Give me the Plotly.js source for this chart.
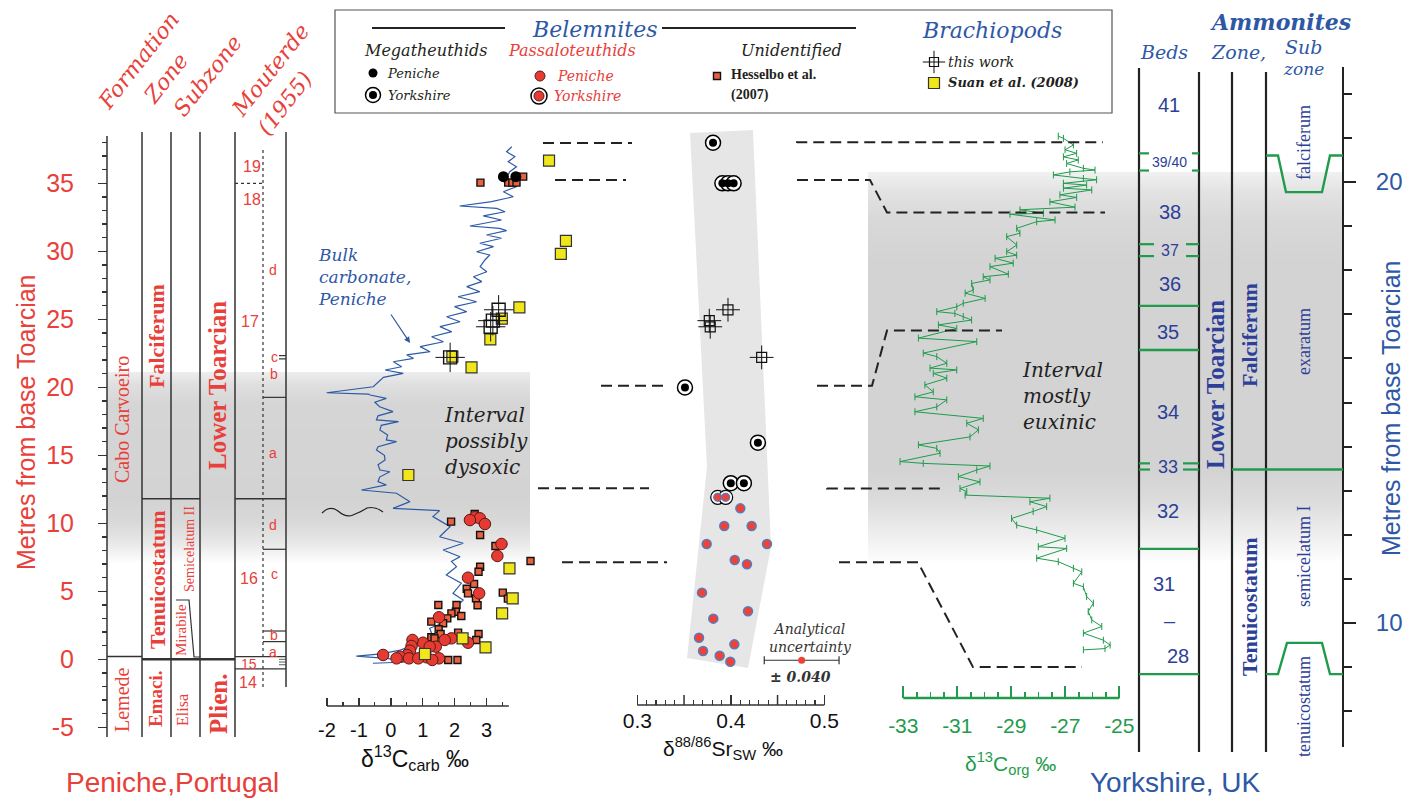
<!DOCTYPE html>
<html><head><meta charset="utf-8">
<script src="https://cdn.plot.ly/plotly-3.0.1.min.js"></script>
<style>html,body{margin:0;padding:0;background:#fff}#chart{width:1409px;height:803px}</style>
</head><body><div id="chart"></div>
<script>
// ================= DATA =================
// Peniche bulk carbonate δ13C (‰) vs metres from base Toarcian
const bulkM = [37.69,37.32,36.96,36.59,36.22,35.85,35.24,34.75,34.38,34.01,33.65,33.33,33.16,32.91,32.60,32.30,31.86,31.69,31.52,31.20,30.96,30.59,30.34,29.97,29.73,29.36,28.87,28.50,28.13,27.77,27.40,27.03,26.66,26.29,25.93,25.56,25.19,24.82,24.46,24.09,23.72,23.35,22.99,22.62,22.38,22.13,21.88,21.51,21.27,21.03,20.73,20.40,20.04,19.60,19.50,19.43,19.19,18.90,18.57,18.21,17.90,17.60,17.47,17.20,16.86,16.50,16.13,16.00,15.63,15.39,15.00,14.65,14.30,13.92,13.79,13.40,13.06,12.82,12.45,12.21,11.59,11.10,10.98,10.93,10.49,10.10,9.75,9.40,9.01,8.53,8.04,7.54,7.20,6.81,6.20,5.59,4.85,4.36,3.63,3.20,2.77,2.28,1.66,1.18,0.68,0.40,0.24,0.07,-0.18,-0.29];
const bulkD13C = [3.79,3.63,3.89,3.68,3.94,3.73,3.58,3.94,3.53,3.84,3.16,2.16,3.32,3.58,2.90,3.47,2.48,3.41,3.63,3.00,3.47,2.79,3.22,2.69,3.10,2.95,2.80,3.01,2.59,2.85,2.38,2.79,2.11,2.69,2.00,2.38,1.75,2.17,1.54,1.91,1.28,1.65,0.92,1.23,0.50,0.71,0.08,0.34,-0.18,0.39,-0.23,-0.40,-0.55,-2.01,-0.70,-0.65,-0.14,-0.50,-0.35,0.07,-0.40,-0.45,0.24,-0.30,-0.34,-0.10,-0.14,0.18,-0.40,-0.45,-0.20,-0.18,-0.40,-0.34,-0.03,-0.35,-0.40,-0.14,-0.92,0.18,0.60,0.07,0.91,1.53,1.32,1.60,1.86,1.70,1.53,2.27,1.64,2.17,1.90,2.06,1.74,2.21,1.95,2.27,1.95,1.85,1.74,1.22,1.32,0.91,0.29,-0.30,-1.08,-0.14,0.70,-0.56];

// Peniche belemnites / brachiopods δ13C
const megaPenM = [35.49,35.49];
const megaPenC = [3.53,3.92];
const hessM = [35.05,35.49,35.05,35.05,35.05,10.68,10.12,9.14,8.33,7.23,6.81,6.44,5.54,5.19,4.90,4.85,4.48,4.46,3.99,3.99,3.97,3.50,3.38,3.18,3.01,2.77,2.65,2.21,1.96,1.86,1.86,1.62,1.54,1.42,-0.05,-0.05];
const hessC = [2.81,4.15,3.68,3.81,3.94,2.63,1.89,2.80,3.28,4.38,2.80,2.75,2.61,2.38,3.51,2.42,2.67,3.67,2.06,1.49,2.72,2.04,1.90,2.21,1.77,1.27,1.64,1.50,2.11,1.56,2.75,1.27,1.37,2.68,1.80,2.09];
const passPenM = [10.44,10.37,10.24,9.95,8.48,7.60,6.00,4.85,3.09,1.54,1.42,1.22,1.22,1.42,0.98,0.93,0.93,0.63,0.32,0.32,0.19,0.15,0.07,0.07,0.07,0.07,-0.05];
const passPenC = [2.63,2.79,2.48,2.95,3.47,3.34,2.42,2.77,1.51,1.90,1.69,2.42,1.01,0.68,0.65,1.41,1.22,0.60,0.51,-0.24,0.29,1.12,0.18,0.57,0.86,1.51,1.30];
const suanM = [36.66,30.76,29.81,25.88,25.05,23.53,22.25,21.47,13.55,6.69,4.48,3.38,1.54,0.88,0.39];
const suanC = [4.96,5.49,5.33,4.03,3.48,3.12,1.93,2.53,0.55,3.72,3.82,3.49,2.25,2.97,1.07];
const brachM = [25.7,24.9,24.45,22.2];
const brachC = [3.38,3.20,3.13,1.86];
const brachSr = [0.397,0.377,0.378,0.433];

// Sr isotopes: Peniche passaloteuthids
const passPenSrM = [11.10,9.80,9.80,8.48,8.48,7.30,6.99,4.90,3.53,2.99,1.59,1.10,0.61,0.26,-0.18];
const passPenSr  = [0.4102,0.393,0.4223,0.3742,0.4387,0.4042,0.4173,0.3692,0.4184,0.3813,0.366,0.4038,0.3703,0.3881,0.3995];
// Sr isotopes: Yorkshire (metres on Yorkshire scale)
const megaYorM  = [20.89,19.97,19.97,19.97,15.34,14.09,13.17,13.17];
const megaYorSr = [0.381,0.391,0.397,0.403,0.351,0.429,0.400,0.414];
const passYorM  = [12.85,12.85];
const passYorSr = [0.386,0.3945];
// analytical uncertainty
const uncSr = [0.4758], uncM = [-0.07], uncErr = [0.040];
// Sr envelope (grey band) corners: Sr, Peniche metres
const envSr = [0.3564,0.4237,0.443,0.4184,0.3532,0.3745];
const envM  = [38.70,38.92,8.26,-0.64,0.10,14.14];

// Yorkshire δ13C org vs Yorkshire metres
const orgM = [21.04,20.99,20.84,20.73,20.65,20.57,20.50,20.42,20.31,20.27,20.23,20.16,20.08,20.05,19.97,19.93,19.86,19.82,19.71,19.65,19.55,19.43,19.37,19.29,19.27,19.14,19.10,18.95,18.84,18.76,18.57,18.42,18.34,18.27,18.16,18.08,17.91,17.85,17.78,17.70,17.55,17.48,17.36,17.25,17.17,17.06,17.02,16.95,16.87,16.76,16.68,16.46,16.38,16.12,16.04,15.89,15.78,15.74,15.66,15.55,15.40,15.24,15.13,15.06,14.90,14.79,14.64,14.53,14.38,14.22,14.04,13.96,13.85,13.66,13.62,13.56,13.47,13.32,13.20,13.05,12.98,12.90,12.83,12.75,12.64,12.53,12.37,12.22,12.11,11.92,11.73,11.69,11.47,11.39,11.24,11.16,10.90,10.82,10.60,10.45,10.26,10.07,9.92,9.77,9.61,9.50,9.42,9.39];
const orgC = [-27.26,-27.07,-26.70,-27.01,-26.58,-27.07,-26.52,-26.95,-26.33,-25.90,-26.83,-27.44,-26.33,-25.84,-27.07,-26.21,-27.07,-26.02,-27.20,-26.58,-27.57,-26.64,-28.68,-27.81,-29.05,-27.38,-28.06,-28.80,-28.68,-29.17,-28.80,-29.17,-28.80,-29.60,-28.93,-29.79,-29.11,-30.04,-29.79,-30.47,-30.41,-30.71,-29.97,-30.78,-31.02,-31.76,-31.09,-30.78,-30.47,-31.70,-31.02,-32.44,-30.28,-32.26,-31.76,-31.39,-32.01,-31.02,-31.89,-31.39,-32.20,-31.89,-32.57,-31.39,-31.76,-32.57,-30.04,-30.65,-30.22,-30.53,-32.44,-31.76,-31.64,-33.12,-32.26,-29.79,-30.28,-30.96,-30.16,-30.90,-30.65,-30.71,-27.57,-28.31,-27.69,-28.19,-28.99,-28.80,-28.06,-27.01,-28.00,-26.95,-28.06,-27.26,-26.70,-26.39,-26.70,-26.33,-26.21,-25.96,-26.15,-26.02,-25.65,-26.33,-25.59,-25.34,-25.53,-26.33];

// Correlation ties (Peniche metres -> Yorkshire metres)
const tiePen = [37.96,35.24,20.12,12.57,7.13];
const tieYor = [20.90,19.31,16.63,13.05,9.00];

// Stratigraphy, Peniche (metres)
const penZoneBounds = [11.8];
const penBaseToarcian = 0;
const penFormationBound = 0.2;
const mirabileTop = 4.36, mirabileBase = 0.17;
const mouterdeBounds = [19.26, 8.09, 2.08, 1.3];
const mouterdeCBounds = [22.33, 22.09];
const mouterde15 = [0.19, -0.71];
const mouterde18_19 = 35;
// Stratigraphy, Yorkshire (metres)
const yorBedBounds = [17.19, 16.19, 11.68, 8.84];
const yorBedPairs = [[20.65,20.26],[18.59,18.32],[13.62,13.48]];
const yorZoneBound = 13.48;
const yorSubTop = [20.6, 19.77];
const yorSubBase = [8.84, 9.55];

// Tick labels
const carbTicks = [-2,-1,0,1,2,3];
const srTicks = [0.3,0.4,0.5];
const srHalfTicks = [0.35,0.45];
const orgTicks = [-33,-31,-29,-27,-25];
const penTicks = [-5,0,5,10,15,20,25,30,35];
const yorTicks = [10,20];

// ================= LAYOUT HELPERS =================
const W = 1409, H = 803;
const X = p => p / W, Y = p => 1 - p / H;
const PEN0 = 659.3, PENK = 13.6;
const YOR20 = 182, YORK = 44.1;
const C0 = 327, CK = 31.9;
const S0 = 637.3, SK = 935;
const O0 = 903.3, OK = 27;
const penPix = m => PEN0 - PENK * m;
const yorPix = m => YOR20 - YORK * (m - 20);

const SANS = '"Liberation Sans", Arial, sans-serif';
const SERIF = '"Liberation Serif", "Times New Roman", serif';
const SERIF_IT = '"DejaVu Serif", serif';
const RED = '#e8403a', BLUE = '#2e58a6', BEDBLUE = '#2d3f97', GREEN = '#1f9b4b', DARK = '#231f20';

const range = (a, b, s) => { const o = []; for (let v = a; v <= b + 1e-9; v += s) o.push(+v.toFixed(4)); return o; };

const shapes = [];
const annotations = [];
function T(x, y, text, size, color, o) {
  o = o || {};
  annotations.push({xref:'paper', yref:'paper', x:X(x), y:Y(y), text:text, showarrow:false,
    xanchor:o.xa || 'center', yanchor:o.ya || 'middle', align:o.align || 'center',
    textangle:o.angle || 0, font:{family:o.family || SANS, size:size, color:color}});
}
function segP(x0, y0, x1, y1, color, width, dash) {
  shapes.push({type:'line', xref:'paper', yref:'paper', x0:X(x0), y0:Y(y0), x1:X(x1), y1:Y(y1),
    line:{color:color, width:width, dash:dash || 'solid'}, layer:'above'});
}
function pathP(pts, color, width, dash) {
  const d = pts.map((p, i) => (i ? 'L' : 'M') + X(p[0]).toFixed(5) + ',' + Y(p[1]).toFixed(5)).join(' ');
  shapes.push({type:'path', xref:'paper', yref:'paper', path:d, line:{color:color, width:width, dash:dash || 'solid'}, layer:'above'});
}
function band(x0, x1, stops) {
  const y0 = stops[0][0], y1 = stops[stops.length - 1][0];
  for (let y = y0; y < y1; y += 2) {
    let g = 255;
    for (let i = 0; i < stops.length - 1; i++) {
      if (y >= stops[i][0] && y <= stops[i + 1][0]) {
        const t = (y - stops[i][0]) / (stops[i + 1][0] - stops[i][0]);
        g = Math.round(stops[i][1] + t * (stops[i + 1][1] - stops[i][1]));
      }
    }
    shapes.push({type:'rect', xref:'paper', yref:'paper', x0:X(x0), x1:X(x1), y0:Y(y), y1:Y(Math.min(y + 2.8, y1)),
      fillcolor:`rgb(${g},${g},${g})`, line:{width:0}, layer:'below'});
  }
}

// grey intervals
band(107, 530, [[372,236],[385,222],[405,213],[500,211],[520,216],[540,230],[555,246],[563,255]]);
band(868, 1343, [[172,240],[192,226],[220,216],[260,211],[470,211],[500,220],[530,236],[555,250],[562,255]]);
// Sr envelope
shapes.push({type:'path', xref:'x2', yref:'y', layer:'below', fillcolor:'#e6e6e6', line:{width:0},
  path: envSr.map((s, i) => (i ? 'L' : 'M') + s + ',' + envM[i]).join(' ') + ' Z'});

// ----- Peniche column -----
const COL = '#333';
segP(107, 136, 107, 737, COL, 1.5);           // axis line
[142,171,200,235].forEach(x => segP(x, 132, x, 737, COL, 1.5));
segP(286, 132, 286, 687, COL, 1.5);
segP(263, 150, 263, 687, COL, 1.2, 'dot');
segP(107, penPix(penFormationBound), 142, penPix(penFormationBound), COL, 1.5);
segP(142, penPix(penBaseToarcian), 235, penPix(penBaseToarcian), COL, 2.5);
penZoneBounds.forEach(m => { segP(142, penPix(m), 200, penPix(m), COL, 1.5); segP(235, penPix(m), 286, penPix(m), COL, 1.5); });
pathP([[176, penPix(mirabileTop)], [189, penPix(mirabileTop)], [194, penPix(mirabileBase)], [200, penPix(mirabileBase)]], COL, 1.2);
mouterdeBounds.forEach(m => segP(263, penPix(m), 286, penPix(m), COL, 1.2));
mouterdeCBounds.forEach(m => segP(279, penPix(m), 286, penPix(m), COL, 1.2));
mouterde15.forEach(m => segP(235, penPix(m), 286, penPix(m), COL, 1.2));
segP(235, penPix(mouterde18_19), 263, penPix(mouterde18_19), COL, 1.2, 'dot');
[0.0,-0.2,-0.4].forEach(m => segP(279, penPix(m), 286, penPix(m), COL, 0.8));

// ----- Yorkshire column -----
segP(1139, 68, 1139, 752, '#222', 2.2);
[1199,1232,1266].forEach(x => segP(x, 72, x, 752, '#222', 2.2));
segP(1343, 67, 1343, 747, '#222', 2);          // axis line
yorBedBounds.forEach(m => segP(1139, yorPix(m), 1199, yorPix(m), GREEN, 2.4));
yorBedPairs.forEach((pr, i) => pr.forEach(m => {
  const g = [[1149,1192],[1154,1186],[1150,1183]][i];
  segP(1139, yorPix(m), g[0], yorPix(m), GREEN, 2.2);
  segP(g[1], yorPix(m), 1199, yorPix(m), GREEN, 2.2);
}));
segP(1232, yorPix(yorZoneBound), 1343, yorPix(yorZoneBound), GREEN, 2.4);
pathP([[1266, yorPix(yorSubTop[0])],[1278, yorPix(yorSubTop[0])],[1286, yorPix(yorSubTop[1])],[1322, yorPix(yorSubTop[1])],[1330, yorPix(yorSubTop[0])],[1343, yorPix(yorSubTop[0])]], GREEN, 2.4);
pathP([[1266, yorPix(yorSubBase[0])],[1278, yorPix(yorSubBase[0])],[1287, yorPix(yorSubBase[1])],[1322, yorPix(yorSubBase[1])],[1330, yorPix(yorSubBase[0])],[1343, yorPix(yorSubBase[0])]], GREEN, 2.4);

// ----- correlation dashed lines -----
const DASH = '11px,6px';
const leftSpans = [[543,632],[555,626],[601,667],[538,649],[562,667]];
const rightSpans = [[797,797,797,1103],[797,870,887,1105],[817,872,887,1002],[827,827,827,945],[839,918,973,1082]];
tiePen.forEach((m, i) => {
  segP(leftSpans[i][0], penPix(m), leftSpans[i][1], penPix(m), '#222', 2, DASH);
  const r = rightSpans[i];
  pathP([[r[0], penPix(m)], [r[1], penPix(m)], [r[2], yorPix(tieYor[i])], [r[3], yorPix(tieYor[i])]], '#222', 2, DASH);
});

// axis lines of the isotope panels
shapes.push({type:'line', xref:'x', yref:'paper', x0:-2, x1:3.7, y0:Y(706), y1:Y(706), line:{color:'#333', width:1.5}});
shapes.push({type:'line', xref:'x2', yref:'paper', x0:0.3, x1:0.5, y0:Y(705), y1:Y(705), line:{color:'#333', width:1.5}});
srHalfTicks.forEach(v => shapes.push({type:'line', xref:'x2', yref:'paper', x0:v, x1:v, y0:Y(705), y1:Y(695), line:{color:'#333', width:1.5}}));
shapes.push({type:'line', xref:'x3', yref:'paper', x0:-33, x1:-25, y0:Y(698), y1:Y(698), line:{color:GREEN, width:2.5}});

// unconformity squiggle
shapes.push({type:'path', xref:'paper', yref:'paper', line:{color:'#222', width:1.2},
  path:`M${X(322)},${Y(513)} Q${X(330)},${Y(505)} ${X(338)},${Y(511)} Q${X(346)},${Y(518)} ${X(353)},${Y(515)} Q${X(361)},${Y(512)} ${X(367)},${Y(508)} Q${X(375)},${Y(506)} ${X(383)},${Y(512)}`});

// legend box
shapes.push({type:'rect', xref:'paper', yref:'paper', x0:X(335), x1:X(1112), y0:Y(10), y1:Y(113), line:{color:'#555', width:1.2}, layer:'above'});
segP(372, 28, 505, 28, '#222', 2);
segP(662, 28, 856, 28, '#222', 2);

// ================= TEXT =================
// Peniche headers
T(139, 61, '<i>Formation</i>', 22, RED, {family:SERIF_IT, angle:-52});
T(166, 79, '<i>Zone</i>', 22, RED, {family:SERIF_IT, angle:-52});
T(207, 76, '<i>Subzone</i>', 22, RED, {family:SERIF_IT, angle:-52});
T(270, 70, '<i>Mouterde</i>', 22, RED, {family:SERIF_IT, angle:-52});
T(285, 104, '<i>(1955)</i>', 22, RED, {family:SERIF_IT, angle:-52});
// Peniche column labels
T(122, 420, 'Cabo Carvoeiro', 20, RED, {family:SERIF, angle:-90});
T(122, 700, 'Lemede', 20, RED, {family:SERIF, angle:-90});
T(156, 336, '<b>Falciferum</b>', 22, RED, {family:SERIF, angle:-90});
T(157, 580, '<b>Tenuicostatum</b>', 22, RED, {family:SERIF, angle:-90});
T(155, 699, '<b>Emaci.</b>', 19, RED, {family:SERIF, angle:-90});
T(189, 549, 'Semicelatum II', 14, RED, {family:SERIF, angle:-90});
T(181, 630, 'Mirabile', 15, RED, {family:SERIF, angle:-90});
T(182, 710, 'Elisa', 16, RED, {family:SERIF, angle:-90});
T(218, 386, '<b>Lower Toarcian</b>', 25, RED, {family:SERIF, angle:-90});
T(218, 704, '<b>Plien.</b>', 25, RED, {family:SERIF, angle:-90});
[[252,167,'19'],[252,199,'18'],[250,321,'17'],[249,578,'16'],[249,664,'15'],[248,682,'14']].forEach(a => T(a[0], a[1], a[2], a[2] === '15' ? 14 : 16, RED));
[[273,270,'d'],[274,357,'c'],[274,374,'b'],[273,453,'a'],[273,525,'d'],[274,574,'c'],[274,635,'b'],[273,652,'a']].forEach(a => T(a[0], a[1], a[2], 14, RED));
T(26, 422, 'Metres from base Toarcian', 25, RED, {angle:-90});
T(172, 782, 'Peniche,Portugal', 28, RED);

// Yorkshire headers and labels
T(1280, 22, '<b><i>Ammonites</i></b>', 22, BLUE, {family:SERIF_IT});
T(1164, 52, '<i>Beds</i>', 19, BLUE, {family:SERIF_IT});
T(1238, 52, '<i>Zone,</i>', 19, BLUE, {family:SERIF_IT});
T(1303, 47, '<i>Sub</i>', 19, BLUE, {family:SERIF_IT});
T(1303, 69, '<i>zone</i>', 17, BLUE, {family:SERIF_IT});
[[1169,105,'41',20],[1169,162,'39/40',14],[1170,212,'38',20],[1170,250,'37',16],[1170,284,'36',20],[1168,332,'35',20],[1168,412,'34',20],[1168,467,'33',18],[1168,511,'32',20],[1164,584,'31',20],[1170,621,'–',20],[1178,656,'28',20]].forEach(a => T(a[0], a[1], a[2], a[3], BEDBLUE));
T(1216, 385, '<b>Lower Toarcian</b>', 25, BEDBLUE, {family:SERIF, angle:-90});
T(1249, 335, '<b>Falciferum</b>', 22, BEDBLUE, {family:SERIF, angle:-90});
T(1249, 607, '<b>Tenuicostatum</b>', 22, BEDBLUE, {family:SERIF, angle:-90});
T(1304, 143, 'falciferum', 18, BEDBLUE, {family:SERIF, angle:-90});
T(1304, 342, 'exaratum', 18, BEDBLUE, {family:SERIF, angle:-90});
T(1304, 557, 'semicelatum I', 18, BEDBLUE, {family:SERIF, angle:-90});
T(1304, 707, 'tenuicostatum', 18, BEDBLUE, {family:SERIF, angle:-90});
T(1391, 408, 'Metres from base Toarcian', 25, BLUE, {angle:-90});
T(1175, 782, 'Yorkshire, UK', 28, BLUE);

// panel texts
T(316, 277, '<i>Bulk<br>carbonate,<br>Peniche</i>', 17, BLUE, {family:SERIF_IT, xa:'left', align:'left'});
T(442, 441, '<i>Interval<br>possibly<br>dysoxic</i>', 20, '#222', {family:SERIF_IT, xa:'left', align:'left'});
T(1020, 396, '<i>Interval<br>mostly<br>euxinic</i>', 20, '#222', {family:SERIF_IT, xa:'left', align:'left'});
T(810, 638, '<i>Analytical<br>uncertainty</i>', 14, '#333', {family:SERIF_IT});
T(800, 677, '<b><i>± 0.040</i></b>', 14, '#333', {family:SERIF_IT});
T(415, 758, 'δ<sup>13</sup>C<sub>carb</sub> ‰', 23, '#111');
T(723, 748, 'δ<sup>88/86</sup>Sr<sub>SW</sub> ‰', 21, '#111');
T(1010, 763, 'δ<sup>13</sup>C<sub>org</sub> ‰', 21, GREEN);
annotations.push({xref:'paper', yref:'paper', x:X(410), y:Y(343), ax:-20, ay:-30, text:'', showarrow:true,
  arrowhead:2, arrowsize:1, arrowwidth:1.2, arrowcolor:BLUE});

// legend texts
T(594, 29, '<i>Belemnites</i>', 22, BLUE, {family:SERIF_IT});
T(992, 30, '<i>Brachiopods</i>', 22, BLUE, {family:SERIF_IT});
T(425, 50, '<i>Megatheuthids</i>', 16, DARK, {family:SERIF_IT});
T(572, 50, '<i>Passaloteuthids</i>', 16, RED, {family:SERIF_IT});
T(791, 50, '<i>Unidentified</i>', 16, DARK, {family:SERIF_IT});
T(385, 73, '<i>Peniche</i>', 13, DARK, {family:SERIF_IT, xa:'left'});
T(386, 95, '<i>Yorkshire</i>', 13, DARK, {family:SERIF_IT, xa:'left'});
T(555, 76, '<i>Peniche</i>', 14, RED, {family:SERIF_IT, xa:'left'});
T(552, 96, '<i>Yorkshire</i>', 14, RED, {family:SERIF_IT, xa:'left'});
T(729, 74, '<b>Hesselbo et al.</b>', 14, DARK, {family:SERIF, xa:'left'});
T(729, 95, '<b>(2007)</b>', 14, DARK, {family:SERIF, xa:'left'});
T(946, 62, '<i>this work</i>', 14, DARK, {family:SERIF_IT, xa:'left'});
T(946, 83, '<b><i>Suan et al. (2008)</i></b>', 13, DARK, {family:SERIF_IT, xa:'left'});

// ================= TRACES =================
const base = {type:'scatter', hoverinfo:'skip', showlegend:false, cliponaxis:false};
const mk = (o) => Object.assign({}, base, o);
const cross = (sz, w) => ({symbol:'cross-thin-open', size:sz, color:'#111', line:{color:'#111', width:w}});
const sqOpen = (sz, w) => ({symbol:'square-open', size:sz, color:'#111', line:{color:'#111', width:w}});
const traces = [
  mk({x:bulkD13C, y:bulkM, xaxis:'x', yaxis:'y', mode:'lines', line:{color:'#2d5aa6', width:1.2}}),
  mk({x:hessC, y:hessM, xaxis:'x', yaxis:'y', mode:'markers', marker:{symbol:'square', size:7, color:'#e8623f', line:{color:'#111', width:1.4}}}),
  mk({x:passPenC, y:passPenM, xaxis:'x', yaxis:'y', mode:'markers', marker:{symbol:'circle', size:11.5, color:'#e63b33', line:{color:'#5b1a15', width:1}}}),
  mk({x:suanC, y:suanM, xaxis:'x', yaxis:'y', mode:'markers', marker:{symbol:'square', size:11, color:'#f1e61a', line:{color:'#333', width:1.2}}}),
  mk({x:brachC, y:brachM, xaxis:'x', yaxis:'y', mode:'markers', marker:cross(21, 1)}),
  mk({x:brachC, y:brachM, xaxis:'x', yaxis:'y', mode:'markers', marker:sqOpen(13, 1.4)}),
  mk({x:megaPenC, y:megaPenM, xaxis:'x', yaxis:'y', mode:'markers', marker:{symbol:'circle', size:11, color:'#000'}}),
  // Sr panel
  mk({x:passPenSr, y:passPenSrM, xaxis:'x2', yaxis:'y', mode:'markers', marker:{symbol:'circle', size:9, color:'#ef4136', line:{color:'#4f7fc1', width:1.5}}}),
  mk({x:brachSr, y:brachM, xaxis:'x2', yaxis:'y', mode:'markers', marker:cross(17, 1)}),
  mk({x:brachSr, y:brachM, xaxis:'x2', yaxis:'y', mode:'markers', marker:sqOpen(10, 1.2)}),
  mk({x:megaYorSr, y:megaYorM, xaxis:'x2', yaxis:'y2', mode:'markers', marker:{symbol:'circle', size:15, color:'rgba(255,255,255,0.9)', line:{color:'#000', width:1.5}}}),
  mk({x:megaYorSr, y:megaYorM, xaxis:'x2', yaxis:'y2', mode:'markers', marker:{symbol:'circle', size:8, color:'#000'}}),
  mk({x:passYorSr, y:passYorM, xaxis:'x2', yaxis:'y2', mode:'markers', marker:{symbol:'circle', size:14, color:'rgba(255,255,255,0.9)', line:{color:'#000', width:1.2}}}),
  mk({x:passYorSr, y:passYorM, xaxis:'x2', yaxis:'y2', mode:'markers', marker:{symbol:'circle', size:8, color:'#ef4136', line:{color:'#4f7fc1', width:1.2}}}),
  mk({x:uncSr, y:uncM, xaxis:'x2', yaxis:'y', mode:'markers', marker:{symbol:'circle', size:7, color:'#ef4136'},
      error_x:{type:'data', array:uncErr, visible:true, color:'#333', thickness:1.2, width:4}}),
  // Yorkshire organic carbon
  mk({x:orgC, y:orgM, xaxis:'x3', yaxis:'y2', mode:'lines+markers', line:{color:GREEN, width:1},
      marker:{symbol:'line-ns-open', size:5, color:GREEN, line:{color:GREEN, width:1}}}),
  // legend keys (pixel space)
  mk({x:[373], y:[73], xaxis:'x4', yaxis:'y4', mode:'markers', marker:{symbol:'circle', size:9, color:'#000'}}),
  mk({x:[373], y:[95], xaxis:'x4', yaxis:'y4', mode:'markers', marker:{symbol:'circle', size:15, color:'#fff', line:{color:'#000', width:1.5}}}),
  mk({x:[373], y:[95], xaxis:'x4', yaxis:'y4', mode:'markers', marker:{symbol:'circle', size:8, color:'#000'}}),
  mk({x:[540], y:[76], xaxis:'x4', yaxis:'y4', mode:'markers', marker:{symbol:'circle', size:10, color:'#e63b33', line:{color:'#5b1a15', width:1}}}),
  mk({x:[539], y:[96], xaxis:'x4', yaxis:'y4', mode:'markers', marker:{symbol:'circle', size:16, color:'#fff', line:{color:'#000', width:1.5}}}),
  mk({x:[539], y:[96], xaxis:'x4', yaxis:'y4', mode:'markers', marker:{symbol:'circle', size:10, color:'#e63b33', line:{color:'#5b1a15', width:1}}}),
  mk({x:[717], y:[76], xaxis:'x4', yaxis:'y4', mode:'markers', marker:{symbol:'square', size:7, color:'#e8623f', line:{color:'#111', width:1.4}}}),
  mk({x:[934], y:[62], xaxis:'x4', yaxis:'y4', mode:'markers', marker:cross(16, 1)}),
  mk({x:[934], y:[62], xaxis:'x4', yaxis:'y4', mode:'markers', marker:sqOpen(9, 1.2)}),
  mk({x:[934], y:[83], xaxis:'x4', yaxis:'y4', mode:'markers', marker:{symbol:'square', size:11, color:'#f1e61a', line:{color:'#333', width:1.2}}})
];

// ================= AXES =================
const noGrid = {showgrid:false, zeroline:false, showline:false};
const layout = {
  width:W, height:H, margin:{l:0, r:0, t:0, b:0}, paper_bgcolor:'#fff', plot_bgcolor:'rgba(0,0,0,0)',
  showlegend:false, shapes:shapes, annotations:annotations,
  xaxis: Object.assign({}, noGrid, {domain:[0,1], range:[-2 - C0/CK, -2 + (W - C0)/CK], anchor:'free', position:Y(706),
    tickmode:'array', tickvals:carbTicks, ticktext:carbTicks.map(String), ticks:'inside', ticklen:8, tickwidth:1.5, tickcolor:'#333',
    minor:{tickmode:'array', tickvals:range(-1.5, 3.5, 1), ticks:'inside', ticklen:4, tickwidth:1.2, tickcolor:'#333'},
    ticklabelstandoff:10, tickfont:{family:SANS, size:20, color:'#111'}}),
  xaxis2: Object.assign({}, noGrid, {domain:[0,1], range:[0.3 - S0/SK, 0.3 + (W - S0)/SK], anchor:'free', position:Y(705),
    tickmode:'array', tickvals:srTicks, ticktext:srTicks.map(String), ticks:'inside', ticklen:10, tickwidth:1.5, tickcolor:'#333',
    minor:{tickmode:'array', tickvals:range(0.31, 0.49, 0.01).filter(v => Math.abs(v*100 % 5) > 0.01 && Math.abs(v*100 % 5 - 5) > 0.01), ticks:'inside', ticklen:5, tickwidth:1.1, tickcolor:'#333'},
    ticklabelstandoff:1, tickfont:{family:SANS, size:21, color:'#111'}}),
  xaxis3: Object.assign({}, noGrid, {domain:[0,1], range:[-33 - O0/OK, -33 + (W - O0)/OK], anchor:'free', position:Y(698),
    tickmode:'array', tickvals:orgTicks, ticktext:orgTicks.map(String), ticks:'inside', ticklen:12, tickwidth:2, tickcolor:GREEN,
    minor:{tickmode:'array', tickvals:range(-32.5, -25.5, 0.5).filter(v => !orgTicks.includes(v)), ticks:'inside', ticklen:6, tickwidth:1.5, tickcolor:GREEN},
    ticklabelstandoff:13, tickfont:{family:SANS, size:21, color:GREEN}}),
  yaxis: Object.assign({}, noGrid, {domain:[0,1], range:[(PEN0 - H)/PENK, PEN0/PENK], anchor:'free', position:X(107), side:'left',
    tickmode:'array', tickvals:penTicks, ticktext:penTicks.map(String), ticks:'outside', ticklen:9, tickwidth:1.5, tickcolor:'#333',
    minor:{tickmode:'array', tickvals:range(-5, 38, 1).filter(v => v % 5 !== 0), ticks:'outside', ticklen:5, tickwidth:1.3, tickcolor:'#333'},
    ticklabelstandoff:19, tickfont:{family:SANS, size:25, color:RED}}),
  yaxis2: Object.assign({}, noGrid, {domain:[0,1], range:[20 - (H - YOR20)/YORK, 20 + YOR20/YORK], anchor:'free', position:X(1343), side:'right',
    tickmode:'array', tickvals:yorTicks, ticktext:yorTicks.map(String), ticks:'outside', ticklen:12, tickwidth:2, tickcolor:'#222',
    minor:{tickmode:'array', tickvals:range(8, 22, 1).filter(v => !yorTicks.includes(v)), ticks:'outside', ticklen:8, tickwidth:2, tickcolor:'#222'},
    ticklabelstandoff:15, tickfont:{family:SANS, size:24, color:BLUE}}),
  xaxis4: {domain:[0,1], range:[0, W], anchor:'y4', visible:false, fixedrange:true},
  yaxis4: {domain:[0,1], range:[H, 0], anchor:'x4', visible:false, fixedrange:true}
};

Plotly.newPlot('chart', traces, layout, {displayModeBar:false, staticPlot:true});
</script>
</body></html>
